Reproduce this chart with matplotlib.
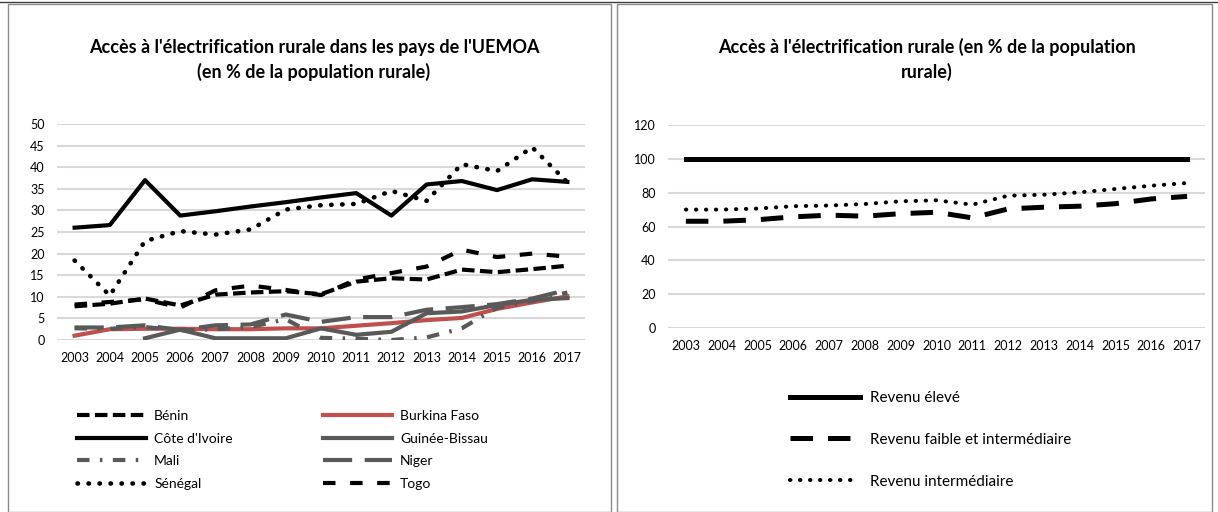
import matplotlib
matplotlib.use('Agg')
import matplotlib.pyplot as plt
from matplotlib.patches import Rectangle
import numpy as np

plt.rcParams['font.family'] = ['Lato', 'DejaVu Sans']

# data
years = [str(y) for y in range(2003, 2018)]

benin = [7.8, 8.4, 9.6, 8.0, 10.5, 11.0, 11.3, 10.6, 13.5, 14.3, 14.0, 16.3, 15.7, 16.4, 17.2]
burkina = [1.0, 2.5, 2.6, 2.6, 2.5, 2.5, 2.7, 2.7, 3.3, 3.9, 4.6, 5.1, 7.2, 8.7, 10.1]
cote_ivoire = [26.0, 26.6, 37.0, 28.8, 29.8, 30.9, 31.9, 33.0, 34.0, 28.8, 36.0, 36.8, 34.7, 37.2, 36.6]
guinee_bissau = [np.nan, np.nan, 0.4, 2.4, 0.4, 0.4, 0.4, 2.7, 1.2, 1.9, 6.2, 6.6, 8.1, 9.3, 9.7]
mali = [2.7, 2.6, 3.0, 2.2, 2.5, 3.0, 4.8, 0.5, 0.3, 0.0, 0.6, 2.7, 7.5, 9.0, 11.0]
niger = [2.9, 2.9, 3.4, 2.3, 3.4, 3.6, 5.9, 4.2, 5.3, 5.3, 7.0, 7.6, 8.3, 9.6, 11.6]
senegal = [18.4, 10.3, 22.9, 25.2, 24.4, 25.6, 30.2, 31.2, 31.5, 34.5, 32.2, 40.7, 39.1, 44.6, 36.5]
togo = [8.2, 8.8, 9.4, 7.5, 11.5, 12.6, 11.6, 10.4, 14.0, 15.5, 17.0, 20.9, 19.2, 20.0, 19.3]

rev_eleve = [100] * 15
rev_faible_inter = [63.1, 63.1, 64.0, 65.7, 66.7, 66.1, 67.6, 68.4, 65.1, 70.4, 71.4, 72.0, 73.5, 76.3, 77.8]
rev_inter = [70.0, 70.0, 70.6, 72.0, 72.4, 73.3, 74.9, 75.5, 72.9, 78.2, 78.8, 80.2, 82.2, 84.1, 85.7]

W, H = 1218, 512
fig = plt.figure(figsize=(W / 100, H / 100), dpi=100)

# panel frames
fig.patches.append(Rectangle((8 / W, 0), 603 / W, 1 - 4 / H, transform=fig.transFigure,
                             fill=False, edgecolor='#8c8c8c', lw=1))
fig.patches.append(Rectangle((617 / W, 0), 595 / W, 1 - 4 / H, transform=fig.transFigure,
                             fill=False, edgecolor='#8c8c8c', lw=1))
fig.add_artist(plt.Line2D([0, 1], [1 - 2 / H, 1 - 2 / H], transform=fig.transFigure,
                          color='#404040', lw=1))

grey = '#595959'
red = '#c0504d'
x = np.arange(len(years))


def style_ax(ax, ymax, step):
    ax.set_xlim(-0.5, len(years) - 0.5)
    ax.set_ylim(0, ymax)
    ax.set_yticks(np.arange(0, ymax + 1, step))
    ax.set_xticks(x)
    ax.set_xticklabels(years)
    for s in ax.spines.values():
        s.set_visible(False)
    ax.tick_params(length=0, labelsize=9, colors='black')
    ax.tick_params(axis='x', pad=9)
    ax.tick_params(axis='y', pad=9)
    ax.yaxis.grid(True, color='#d9d9d9', lw=1.5)
    ax.set_axisbelow(True)


# left chart
ax1 = fig.add_axes([57 / W, 1 - 340 / H, 528 / W, 216 / H])
style_ax(ax1, 50, 5)
lw = 3.0
l_benin, = ax1.plot(x, benin, color='black', lw=lw, dashes=(3, 1.3), label='Bénin')
l_burk, = ax1.plot(x, burkina, color=red, lw=lw, label='Burkina Faso')
l_ci, = ax1.plot(x, cote_ivoire, color='black', lw=lw, label="Côte d'Ivoire")
l_gb, = ax1.plot(x, guinee_bissau, color=grey, lw=lw, label='Guinée-Bissau')
l_mali, = ax1.plot(x, mali, color=grey, lw=lw, dashes=(3, 2.5, 0.6, 2.5), label='Mali')
l_niger, = ax1.plot(x, niger, color=grey, lw=lw, dashes=(7, 3), label='Niger')
l_sen, = ax1.plot(x, senegal, color='black', lw=lw * 1.1, dashes=(0.1, 2.3),
                  dash_capstyle='round', label='Sénégal')
l_togo, = ax1.plot(x, togo, color='black', lw=lw, dashes=(3, 3.5), label='Togo')

handles = [l_benin, l_ci, l_mali, l_sen, l_burk, l_gb, l_niger, l_togo]
fig.legend(handles=handles, labels=[h.get_label() for h in handles], ncol=2,
           loc='upper left', bbox_to_anchor=(77 / W, 1 - 410 / H), frameon=False,
           fontsize=10, handlelength=5.0, handletextpad=0.55, columnspacing=6.5,
           labelspacing=0.76, borderaxespad=0, borderpad=0)

fig.text(314 / W, 1 - 47 / H, "Accès à l'électrification rurale dans les pays de l'UEMOA",
         ha='center', va='center', fontsize=13, fontweight='bold')
fig.text(314 / W, 1 - 72 / H, "(en % de la population rurale)",
         ha='center', va='center', fontsize=13, fontweight='bold')

# right chart
ax2 = fig.add_axes([668 / W, 1 - 328 / H, 537 / W, 203 / H])
style_ax(ax2, 120, 20)
lw2 = 3.6
r1, = ax2.plot(x, rev_eleve, color='black', lw=lw2, label='Revenu élevé')
r2, = ax2.plot(x, rev_faible_inter, color='black', lw=lw2, dashes=(4.5, 3),
               label='Revenu faible et intermédiaire')
r3, = ax2.plot(x, rev_inter, color='black', lw=lw2 * 0.8, dashes=(0.1, 2.4),
               dash_capstyle='round', label='Revenu intermédiaire')
fig.legend(handles=[r1, r2, r3], loc='upper left', bbox_to_anchor=(790 / W, 1 - 391 / H),
           frameon=False, fontsize=11, handlelength=4.6, handletextpad=0.65,
           labelspacing=1.82, borderaxespad=0, borderpad=0)

fig.text(927 / W, 1 - 47 / H, "Accès à l'électrification rurale (en % de la population",
         ha='center', va='center', fontsize=13, fontweight='bold')
fig.text(927 / W, 1 - 72 / H, "rurale)",
         ha='center', va='center', fontsize=13, fontweight='bold')

fig.savefig('out.png', dpi=100, facecolor='white')
